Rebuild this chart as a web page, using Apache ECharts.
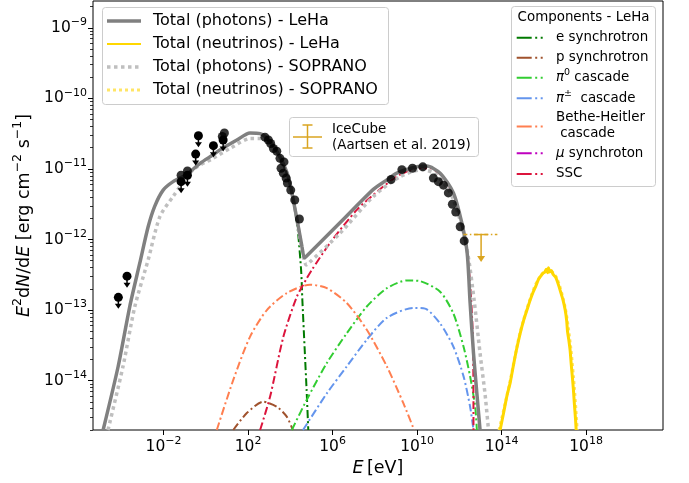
<!DOCTYPE html>
<html><head><meta charset="utf-8">
<script src="https://cdn.jsdelivr.net/npm/echarts@6/dist/echarts.min.js"></script>
<style>html,body{margin:0;padding:0;background:#fff}#c{width:689px;height:483px}</style>
</head><body><div id="c"></div>
<script>
// All values are log10: [log10(E / eV), log10(E^2 dN/dE / erg cm^-2 s^-1)]
const xTickExps = [-2, 2, 6, 10, 14, 18];
const yTickExps = [-14, -13, -12, -11, -10, -9];

const totalPhotonsLeHa = [[-4.86,-14.70],[-4.15,-13.80],[-3.60,-12.95],[-3.13,-12.34],[-2.73,-11.82],[-2.42,-11.53],[-2.02,-11.30],[-1.55,-11.18],[-0.92,-11.08],[-0.27,-10.92],[0.34,-10.80],[0.67,-10.73],[1.47,-10.59],[2.09,-10.49],[2.57,-10.50],[3.04,-10.61],[3.51,-10.83],[3.91,-11.11],[4.14,-11.44],[4.38,-11.82],[4.55,-12.10],[4.66,-12.26],[4.75,-12.24],[6.36,-11.76],[7.93,-11.29],[8.50,-11.17],[9.04,-11.06],[9.99,-10.97],[10.46,-10.96],[11.09,-11.06],[11.72,-11.34],[12.12,-11.77],[12.37,-12.19],[12.51,-12.90],[12.67,-13.61],[12.83,-14.18],[12.98,-14.70]];
const totalPhotonsSoprano = [[-4.63,-14.70],[-3.92,-13.80],[-3.36,-12.95],[-2.73,-12.29],[-2.18,-11.68],[-1.55,-11.39],[-0.60,-11.01],[0.34,-10.85],[1.20,-10.70],[2.09,-10.57],[2.65,-10.57],[3.14,-10.66],[3.61,-10.90],[3.99,-11.23],[4.27,-11.65],[4.56,-12.15],[4.75,-12.36],[4.85,-12.34],[6.36,-11.91],[7.93,-11.39],[9.20,-11.11],[10.24,-11.01],[10.85,-11.07],[11.56,-11.33],[12.03,-11.72],[12.41,-12.22],[12.70,-12.86],[12.98,-13.61],[13.22,-14.20],[13.38,-14.70]];
const totalNeutrinosLeHa = [[13.93,-14.70],[14.10,-14.45],[14.25,-14.22],[14.40,-14.04],[14.55,-13.80],[14.70,-13.57],[14.88,-13.33],[15.05,-13.14],[15.20,-13.00],[15.35,-12.86],[15.50,-12.74],[15.62,-12.66],[15.74,-12.57],[15.85,-12.52],[15.95,-12.48],[16.05,-12.46],[16.12,-12.42],[16.18,-12.47],[16.22,-12.40],[16.28,-12.46],[16.35,-12.44],[16.45,-12.50],[16.55,-12.53],[16.61,-12.57],[16.70,-12.65],[16.80,-12.75],[16.90,-12.85],[17.01,-13.00],[17.08,-13.15],[17.12,-13.30],[17.18,-13.42],[17.24,-13.56],[17.30,-13.78],[17.35,-13.95],[17.40,-14.13],[17.45,-14.35],[17.50,-14.55],[17.53,-14.70]];
const totalNeutrinosSoprano = [[13.88,-14.70],[14.38,-14.04],[14.85,-13.35],[15.33,-12.86],[15.72,-12.57],[16.20,-12.42],[16.62,-12.55],[17.02,-12.98],[17.28,-13.55],[17.45,-14.12],[17.58,-14.70]];

const eSynchrotron = [[3.51,-10.83],[3.91,-11.11],[4.14,-11.44],[4.33,-11.80],[4.51,-12.43],[4.57,-12.86],[4.68,-13.56],[4.77,-14.13],[4.85,-14.70]];
const pSynchrotron = [[1.30,-14.70],[1.94,-14.46],[2.72,-14.30],[3.36,-14.37],[3.83,-14.51],[4.12,-14.70]];
const pi0Cascade = [[4.07,-14.70],[4.78,-14.27],[5.73,-13.75],[6.67,-13.33],[7.62,-12.95],[8.57,-12.69],[9.51,-12.58],[10.14,-12.59],[11.09,-12.74],[11.72,-13.05],[12.20,-13.52],[12.51,-13.94],[12.75,-14.37],[12.83,-14.70]];
const piPmCascade = [[4.60,-14.70],[5.73,-14.18],[6.67,-13.80],[7.62,-13.42],[8.57,-13.11],[9.83,-12.97],[10.38,-12.98],[11.09,-13.19],[11.72,-13.52],[12.20,-13.94],[12.51,-14.37],[12.67,-14.70]];
const betheHeitler = [[0.52,-14.70],[1.30,-13.99],[2.09,-13.38],[2.89,-13.00],[3.83,-12.76],[4.93,-12.64],[5.73,-12.69],[6.67,-12.90],[7.62,-13.28],[8.57,-13.80],[9.35,-14.32],[9.86,-14.70]];
const muSynchrotron = [];
const ssc = [[2.57,-14.70],[3.04,-14.23],[3.67,-13.38],[4.31,-12.81],[4.78,-12.55],[5.02,-12.43],[5.88,-12.05],[7.15,-11.58],[8.40,-11.25],[9.20,-11.08],[10.14,-10.99],[10.62,-10.99],[11.18,-11.10],[11.75,-11.38],[12.13,-11.79],[12.41,-12.29],[12.56,-12.86],[12.65,-13.49],[12.67,-14.70]];

const detections = [[-1.17,-11.09],[-0.87,-11.03],[0.78,-10.54],[0.88,-10.49],[2.80,-10.55],[2.96,-10.59],[3.07,-10.64],[3.20,-10.71],[3.36,-10.75],[3.51,-10.85],[3.70,-10.90],[3.56,-10.99],[3.67,-11.06],[3.80,-11.13],[3.86,-11.20],[4.02,-11.30],[4.21,-11.44],[4.43,-11.71],[8.77,-11.15],[9.28,-11.01],[9.78,-10.99],[10.27,-10.97],[10.77,-11.13],[11.01,-11.18],[11.25,-11.23],[11.48,-11.34],[11.67,-11.50],[11.83,-11.61],[12.04,-11.82],[12.23,-12.02]];
const upperLimits = [[-4.14,-12.82],[-3.73,-12.52],[-1.17,-11.18],[-0.87,-11.09],[-0.48,-10.79],[-0.35,-10.53],[0.36,-10.67],[0.82,-10.59]];
// IceCube: [logE, logF, logE low, logE high, logF arrow tip]
const iceCube = [[13.03,-11.93,12.19,13.80,-12.32]];

const X_MIN = -5.34, X_MAX = 21.64, Y_MIN = -14.70, Y_MAX = -8.62;
const FONT = 'DejaVu Sans';
const yMinor = [];
for (let d = -15; d <= -9; d++) for (let k = 2; k <= 9; k++) { const v = d + Math.log10(k); if (v > Y_MIN && v < Y_MAX) yMinor.push(v); }
const sup = v => (v < 0 ? '\u2212' + Math.abs(v) : String(v));
const tickRich = { b: { fontSize: 15.5, fontFamily: FONT, color: '#000' }, s: { fontSize: 11, fontFamily: FONT, color: '#000', padding: [0, 0, 11, 0] } };

const DASH = [8, 3, 2, 3];
function line(name, data, color, width, dash, z) {
  return { name, type: 'line', data, showSymbol: false, symbol: 'none', smooth: 0.25, z: z,
    lineStyle: { color, width, type: dash || 'solid', cap: 'butt' }, silent: true, animation: false };
}

const chart = echarts.init(document.getElementById('c'), null, { renderer: 'canvas' });
const option = {
  animation: false,
  grid: { left: 93, right: 26, top: 1, bottom: 53, show: true, borderColor: '#000', borderWidth: 1, backgroundColor: 'transparent' },
  xAxis: [{
    type: 'value', min: X_MIN, max: X_MAX, position: 'bottom',
    axisLine: { show: false, onZero: false }, splitLine: { show: false },
    axisTick: { show: true, customValues: xTickExps, length: 5, lineStyle: { color: '#000', width: 1 } },
    axisLabel: { customValues: xTickExps, formatter: v => '{b|10}{s|' + sup(v) + '}', rich: tickRich, margin: 6 },
    name: '{i|E} {r|[eV]}', nameLocation: 'middle', nameGap: 26,
    nameTextStyle: { rich: { i: { fontSize: 17.5, fontFamily: FONT, fontStyle: 'italic', color: '#000' }, r: { fontSize: 17.5, fontFamily: FONT, color: '#000' } } }
  }],
  yAxis: [{
    type: 'value', min: Y_MIN, max: Y_MAX, position: 'left',
    axisLine: { show: false, onZero: false }, splitLine: { show: false },
    axisTick: { show: true, customValues: yTickExps, length: 5, lineStyle: { color: '#000', width: 1 } },
    axisLabel: { customValues: yTickExps, formatter: v => '{b|10}{s|' + sup(v) + '}', rich: tickRich, margin: 6 },
    name: '{i|E}{s|2}{r|d}{i|N}{r|/d}{i|E}{r| [erg cm}{s|\u22122}{r| s}{s|\u22121}{r|]}', nameLocation: 'middle', nameGap: 49, nameRotate: 90,
    nameTextStyle: { rich: {
      i: { fontSize: 17.5, fontFamily: FONT, fontStyle: 'italic', color: '#000' },
      r: { fontSize: 17.5, fontFamily: FONT, color: '#000' },
      s: { fontSize: 12.5, fontFamily: FONT, color: '#000', padding: [0, 0, 12, 0] } } }
  }, {
    type: 'value', min: Y_MIN, max: Y_MAX, position: 'left',
    axisLine: { show: false, onZero: false }, splitLine: { show: false }, axisLabel: { show: false },
    axisTick: { show: true, customValues: yMinor, length: 3, lineStyle: { color: '#000', width: 0.8 } }
  }],
  series: [
    line('e synchrotron', eSynchrotron, '#007a00', 2, DASH, 2),
    line('p synchrotron', pSynchrotron, '#a0522d', 2, DASH, 2),
    line('pi0 cascade', pi0Cascade, '#32cd32', 2, DASH, 2),
    line('pi+- cascade', piPmCascade, '#6495ed', 2, DASH, 2),
    line('Bethe-Heitler cascade', betheHeitler, '#ff7f50', 2, DASH, 2),
    line('mu synchroton', muSynchrotron, '#bf00bf', 2, DASH, 2),
    line('SSC', ssc, '#dc143c', 2, DASH, 2),
    line('Total (photons) - SOPRANO', totalPhotonsSoprano, '#bfbfbf', 3.5, [3.5, 3.5], 3),
    line('Total (neutrinos) - SOPRANO', totalNeutrinosSoprano, '#ffe566', 3, [3, 3], 3),
    line('Total (photons) - LeHa', totalPhotonsLeHa, '#808080', 3.5, null, 4),
    line('Total (neutrinos) - LeHa', totalNeutrinosLeHa, '#ffd700', 3, null, 4),
    { type: 'scatter', data: detections, symbol: 'circle', symbolSize: 9, itemStyle: { color: '#000' }, z: 6, silent: true },
    { type: 'custom', data: upperLimits, z: 6, silent: true,
      renderItem: (params, api) => {
        const p = api.coord([api.value(0), api.value(1)]);
        return { type: 'group', children: [
          { type: 'circle', shape: { cx: p[0], cy: p[1], r: 4.5 }, style: { fill: '#000' } },
          { type: 'line', shape: { x1: p[0], y1: p[1], x2: p[0], y2: p[1] + 8 }, style: { stroke: '#000', lineWidth: 1.5 } },
          { type: 'polygon', shape: { points: [[p[0] - 3.5, p[1] + 6.5], [p[0] + 3.5, p[1] + 6.5], [p[0], p[1] + 11.5]] }, style: { fill: '#000' } }
        ] };
      } },
    { type: 'custom', data: iceCube, z: 7, silent: true,
      renderItem: (params, api) => {
        const p = api.coord([api.value(0), api.value(1)]);
        const lo = api.coord([api.value(2), api.value(1)]);
        const hi = api.coord([api.value(3), api.value(1)]);
        const tip = api.coord([api.value(0), api.value(4)]);
        const c = '#daa520';
        return { type: 'group', children: [
          { type: 'line', shape: { x1: lo[0], y1: p[1], x2: hi[0], y2: p[1] }, style: { stroke: c, lineWidth: 1.5, lineDash: [4, 2.5, 1.5, 2.5] } },
          { type: 'line', shape: { x1: p[0] - 7, y1: p[1], x2: p[0] + 7, y2: p[1] }, style: { stroke: c, lineWidth: 1.5 } },
          { type: 'line', shape: { x1: p[0], y1: p[1], x2: p[0], y2: tip[1] - 3 }, style: { stroke: c, lineWidth: 1.5 } },
          { type: 'polygon', shape: { points: [[p[0] - 4, tip[1] - 6], [p[0] + 4, tip[1] - 6], [p[0], tip[1]]] }, style: { fill: c } }
        ] };
      } }
  ],
  graphic: []
};

// ---- legends (drawn as graphic) ----
const g = option.graphic;
const box = (x, y, w, h) => g.push({ type: 'rect', z: 100, shape: { x, y, width: w, height: h, r: 3 }, style: { fill: 'rgba(255,255,255,0.8)', stroke: '#cccccc', lineWidth: 1 } });
const seg = (x1, y, x2, stroke, w, dash) => g.push({ type: 'line', z: 101, shape: { x1, y1: y, x2, y2: y }, style: { stroke, lineWidth: w, lineDash: dash || null } });
const txt = (x, y, text, size, rich, align) => g.push({ type: 'text', z: 101, style: { x, y, text, fontSize: size, fontFamily: FONT, fill: '#000', verticalAlign: 'middle', align: align || 'left', rich } });

box(102.5, 7.5, 286, 97);
const mainLeg = [
  ['Total (photons) - LeHa', '#808080', 3.5, null],
  ['Total (neutrinos) - LeHa', '#ffd700', 2, null],
  ['Total (photons) - SOPRANO', '#bfbfbf', 3.5, [3.5, 3.5]],
  ['Total (neutrinos) - SOPRANO', '#ffe566', 3, [3, 3]]
];
mainLeg.forEach((e, i) => { const y = 21 + i * 23; seg(107, y, 141, e[1], e[2], e[3]); txt(153, y, e[0], 16); });

box(289.5, 117.5, 189, 39);
(function () {
  const c = '#daa520', cx = 307.5, cy = 137;
  seg(293, cy, 322, c, 1.5);
  g.push({ type: 'line', z: 101, shape: { x1: cx, y1: 125, x2: cx, y2: 148 }, style: { stroke: c, lineWidth: 1.5 } });
  seg(cx - 5, 125, cx + 5, c, 1.5); seg(cx - 5, 148, cx + 5, c, 1.5);
  txt(332, 129.5, 'IceCube', 13.4);
  txt(332, 145.5, '(Aartsen et al. 2019)', 13.4);
})();

box(511.5, 6.5, 144, 180);
const rs = { r: { fontSize: 13.4, fontFamily: FONT, fill: '#000' }, i: { fontSize: 13.4, fontFamily: FONT, fontStyle: 'italic', fill: '#000' }, s: { fontSize: 9.5, fontFamily: FONT, fill: '#000', padding: [0, 0, 10, 0] } };
txt(583.5, 17.5, 'Components - LeHa', 13.4, null, 'center');
const compLeg = [
  [37.7, '{r|e synchrotron}', '#007a00'],
  [57.7, '{r|p synchrotron}', '#a0522d'],
  [77.7, '{i|\u03c0}{s|0}{r| cascade}', '#32cd32'],
  [98.3, '{i|\u03c0}{s|\u00b1}{r|  cascade}', '#6495ed'],
  [126.5, null, '#ff7f50'],
  [153.3, '{i|\u03bc}{r| synchroton}', '#bf00bf'],
  [174, '{r|SSC}', '#dc143c']
];
compLeg.forEach(e => { seg(516.7, e[0], 545, e[2], 2, [15, 3.5, 2, 3.5, 2, 10]); if (e[1]) txt(556, e[0], e[1], 13.4, rs); });
txt(556, 118, 'Bethe-Heitler', 13.4);
txt(556, 134, ' cascade', 13.4);

chart.setOption(option);
</script></body></html>
